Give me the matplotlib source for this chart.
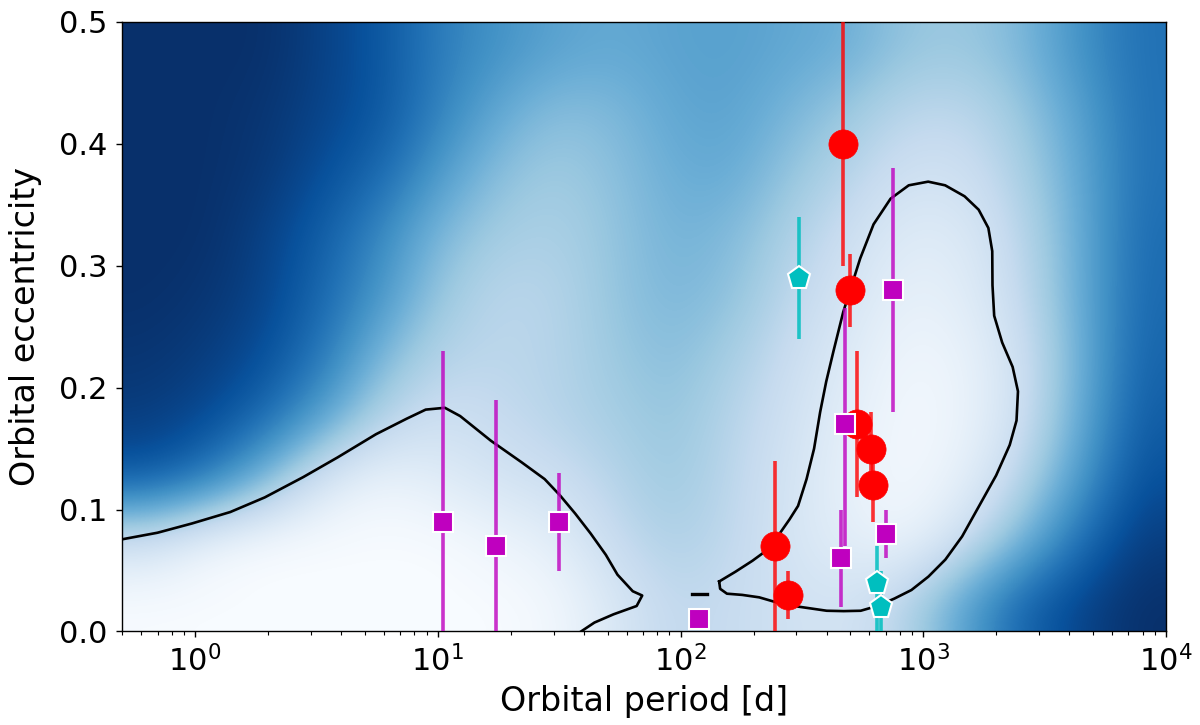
import numpy as np
import matplotlib
matplotlib.use("Agg")
import matplotlib.pyplot as plt

# ---------------- data ----------------
# Red circles
red_P = [466, 500, 533, 607, 618, 245, 276]
red_e = [0.40, 0.28, 0.17, 0.15, 0.12, 0.07, 0.03]
red_elo = [0.10, 0.03, 0.06, 0.03, 0.03, 0.07, 0.02]
red_ehi = [0.15, 0.03, 0.06, 0.03, 0.03, 0.07, 0.02]

# Magenta squares
mag_P = [10.5, 17.3, 31.6, 119, 477, 458, 753, 703]
mag_e = [0.09, 0.07, 0.09, 0.01, 0.17, 0.06, 0.28, 0.08]
mag_elo = [0.09, 0.07, 0.04, 0.0, 0.10, 0.04, 0.10, 0.02]
mag_ehi = [0.14, 0.12, 0.04, 0.0, 0.095, 0.04, 0.10, 0.02]

# Cyan pentagons
cyan_P = [308, 642, 668]
cyan_e = [0.29, 0.04, 0.02]
cyan_elo = [0.05, 0.04, 0.02]
cyan_ehi = [0.05, 0.03, 0.03]

# Contour lines (log10 period, eccentricity)
left_contour_logP = [-0.301, -0.155, -0.013, 0.145, 0.287, 0.445, 0.587, 0.745, 0.871,
                     0.950, 1.029, 1.092, 1.219, 1.345, 1.440, 1.503, 1.566, 1.629,
                     1.692, 1.740, 1.803, 1.842, 1.819, 1.724, 1.645, 1.590]
left_contour_e = [0.0756, 0.081, 0.0886, 0.098, 0.110, 0.1266, 0.1428, 0.1618, 0.1745,
                  0.182, 0.1835, 0.1767, 0.1564, 0.1388, 0.125, 0.1117, 0.0967, 0.0805,
                  0.0629, 0.0466, 0.033, 0.0295, 0.0209, 0.0141, 0.0073, 0.0]

right_contour_logP = [2.159, 2.226, 2.296, 2.351, 2.407, 2.449, 2.484, 2.519, 2.550, 2.575,
                      2.600, 2.630, 2.670, 2.740, 2.795, 2.865, 2.940, 3.020, 3.090, 3.170,
                      3.228, 3.268, 3.284, 3.285, 3.292, 3.325, 3.368, 3.390, 3.384, 3.356,
                      3.300, 3.230, 3.160, 3.091, 3.021, 2.951, 2.881, 2.812, 2.742, 2.672,
                      2.602, 2.533, 2.463, 2.393, 2.324, 2.254, 2.191, 2.163, 2.159]
right_contour_e = [0.041, 0.049, 0.058, 0.066, 0.080, 0.092, 0.103, 0.125, 0.150, 0.180,
                   0.205, 0.230, 0.262, 0.306, 0.334, 0.355, 0.366, 0.369, 0.366, 0.357,
                   0.346, 0.331, 0.312, 0.284, 0.259, 0.237, 0.217, 0.197, 0.173, 0.153,
                   0.128, 0.103, 0.078, 0.059, 0.045, 0.034, 0.027, 0.021, 0.017, 0.0167,
                   0.017, 0.019, 0.021, 0.024, 0.028, 0.030, 0.031, 0.035, 0.041]

dash_contour_P = [111, 128]
dash_contour_e = [0.031, 0.031]

# Background density (darkness 0=white .. 1=navy), rows: e = 0.025..0.475,
# columns: log10(P) cell centres from -0.182 to 3.881
bg_rows = [
    [0.00, 0.00, 0.00, 0.00, 0.00, 0.00, 0.00, 0.03, 0.15, 0.27, 0.24, 0.20, 0.18, 0.30, 0.55, 0.80, 0.92, 1.00],
    [0.20, 0.05, 0.00, 0.00, 0.00, 0.00, 0.05, 0.10, 0.25, 0.33, 0.27, 0.17, 0.10, 0.04, 0.20, 0.45, 0.75, 0.95],
    [0.85, 0.72, 0.45, 0.15, 0.05, 0.12, 0.18, 0.22, 0.30, 0.38, 0.28, 0.18, 0.08, 0.02, 0.08, 0.28, 0.58, 0.88],
    [0.95, 0.90, 0.78, 0.55, 0.30, 0.20, 0.25, 0.30, 0.35, 0.40, 0.30, 0.20, 0.10, 0.02, 0.05, 0.20, 0.50, 0.83],
    [0.98, 0.95, 0.88, 0.72, 0.45, 0.30, 0.28, 0.30, 0.38, 0.43, 0.35, 0.23, 0.13, 0.04, 0.06, 0.20, 0.48, 0.80],
    [1.00, 0.98, 0.92, 0.78, 0.60, 0.38, 0.28, 0.30, 0.40, 0.46, 0.42, 0.28, 0.17, 0.08, 0.10, 0.25, 0.50, 0.78],
    [1.00, 1.00, 0.93, 0.82, 0.65, 0.45, 0.35, 0.33, 0.40, 0.48, 0.45, 0.33, 0.22, 0.12, 0.13, 0.28, 0.50, 0.77],
    [1.00, 1.00, 0.97, 0.88, 0.78, 0.58, 0.42, 0.36, 0.42, 0.50, 0.52, 0.40, 0.30, 0.20, 0.20, 0.33, 0.52, 0.75],
    [1.00, 1.00, 0.98, 0.92, 0.85, 0.68, 0.52, 0.42, 0.45, 0.53, 0.55, 0.47, 0.38, 0.28, 0.27, 0.38, 0.55, 0.75],
    [1.00, 1.00, 1.00, 0.93, 0.85, 0.70, 0.62, 0.55, 0.52, 0.55, 0.56, 0.53, 0.50, 0.40, 0.38, 0.45, 0.62, 0.75],
]

x_ticks = [1, 10, 100, 1000, 10000]
y_ticks = [0.0, 0.1, 0.2, 0.3, 0.4, 0.5]

# ---------------- figure ----------------
fig = plt.figure(figsize=(12, 7.25), dpi=100)
rect = [0.1017, 0.129, 0.870, 0.8407]

xmin, xmax = 0.5, 1e4
ymin, ymax = 0.0, 0.5

ax_bg = fig.add_axes(rect, zorder=0)
ax_bg.imshow(np.array(bg_rows), extent=[np.log10(xmin), np.log10(xmax), ymin, ymax],
             origin="lower", aspect="auto", cmap="Blues", vmin=0, vmax=1,
             interpolation="bicubic")
ax_bg.set_xlim(np.log10(xmin), np.log10(xmax))
ax_bg.set_ylim(ymin, ymax)
ax_bg.axis("off")

ax = fig.add_axes(rect, zorder=1)
ax.patch.set_alpha(0)
ax.set_xscale("log")
ax.set_xlim(xmin, xmax)
ax.set_ylim(ymin, ymax)

# contours
ax.plot(10 ** np.array(left_contour_logP), left_contour_e, color="black", lw=1.9, zorder=2)
ax.plot(10 ** np.array(right_contour_logP), right_contour_e, color="black", lw=1.9, zorder=2)
ax.plot(dash_contour_P, dash_contour_e, color="black", lw=2.4, zorder=2)

# points
eb = dict(ls="none", capsize=0, elinewidth=2.6)
ax.errorbar(cyan_P, cyan_e, yerr=[cyan_elo, cyan_ehi], fmt="p", color="#00bfbf",
            ecolor=(0.0, 0.75, 0.75, 0.85), ms=17, mec="white", mew=1.5, zorder=3, **eb)
ax.errorbar(red_P, red_e, yerr=[red_elo, red_ehi], fmt="o", color="red",
            ecolor=(1.0, 0.0, 0.0, 0.8), ms=21, mec="red", mew=0.5, zorder=4, **eb)
ax.errorbar(mag_P, mag_e, yerr=[mag_elo, mag_ehi], fmt="s", color="#bf00bf",
            ecolor=(0.75, 0.0, 0.75, 0.8), ms=15, mec="white", mew=1.5, zorder=5, **eb)

ax.set_xticks(x_ticks)
ax.set_yticks(y_ticks)
ax.set_yticklabels([f"{v:.1f}" for v in y_ticks])
ax.tick_params(axis="both", which="major", labelsize=22, length=4.5, width=1)
ax.tick_params(axis="y", which="major", pad=6)
ax.tick_params(axis="x", which="major", pad=5)
ax.tick_params(axis="x", which="minor", length=3, width=0.8)
ax.set_xlabel("Orbital period [d]", fontsize=24)
ax.set_ylabel("Orbital eccentricity", fontsize=24)
ax.xaxis.set_label_coords(0.5, -0.088)
ax.yaxis.set_label_coords(-0.077, 0.5)
for s in ax.spines.values():
    s.set_linewidth(1.0)

fig.savefig("out.png", dpi=100)
